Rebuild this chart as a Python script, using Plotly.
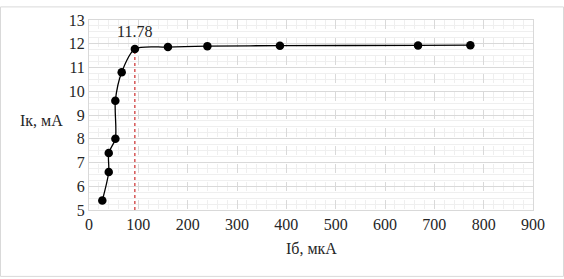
import plotly.graph_objects as go

ib = [27, 40, 40, 53.5, 53.4, 66.3, 93, 160, 240, 387, 667, 773]
ik = [5.4, 6.6, 7.4, 8.0, 9.6, 10.8, 11.78, 11.86, 11.9, 11.92, 11.93, 11.94]
mark_x = 93
mark_y = 11.78
mark_label = "11.78"
x_title = "Iб, мкА"
y_title = "Iк, мА"

W, H = 564, 279
L, R, T, B = 89, 31, 14, 69
font = "Liberation Serif"
tc = "#262626"

fig = go.Figure()
fig.add_trace(go.Scatter(x=[mark_x, mark_x], y=[5, mark_y], mode="lines",
                         line=dict(color="#c00000", width=1, dash="dot"),
                         hoverinfo="skip", showlegend=False))
fig.add_trace(go.Scatter(x=ib, y=ik, mode="lines+markers",
                         line=dict(color="black", width=1.3, shape="spline", smoothing=0.8),
                         marker=dict(color="black", size=8.5), showlegend=False))

fig.add_annotation(x=mark_x, y=mark_y, text=mark_label, showarrow=False,
                   yshift=17, xshift=0, font=dict(family=font, size=16, color=tc))

fig.update_xaxes(range=[0, 900], tickvals=list(range(0, 901, 100)),
                 showgrid=True, gridcolor="#d9d9d9", griddash="dash", gridwidth=1,
                 minor=dict(dtick=20, showgrid=True, gridcolor="#efefef", gridwidth=1),
                 showline=True, linecolor="#d9d9d9", mirror=True, zeroline=False,
                 ticks="", tickfont=dict(family=font, size=16, color=tc))
fig.update_yaxes(range=[5, 13], tickvals=list(range(5, 14)),
                 showgrid=True, gridcolor="#d9d9d9", gridwidth=1,
                 minor=dict(dtick=0.25, showgrid=True, gridcolor="#efefef", gridwidth=1),
                 showline=True, linecolor="#d9d9d9", mirror=True, zeroline=False,
                 ticks="", ticklen=0, tickfont=dict(family=font, size=16, color=tc))

pw = W - L - R
ph = H - T - B
fig.add_annotation(xref="paper", yref="paper", x=(311 - L) / pw, y=(H - B - 250) / ph,
                   xanchor="center", yanchor="middle",
                   text=x_title, showarrow=False,
                   font=dict(family=font, size=16, color=tc))
fig.add_annotation(xref="paper", yref="paper", x=(41 - L) / pw, y=(H - B - 118) / ph,
                   xanchor="center", yanchor="middle",
                   text=y_title, showarrow=False,
                   font=dict(family=font, size=16, color=tc))
fig.add_shape(type="rect", xref="paper", yref="paper",
              x0=(0.5 - L) / pw, x1=(W - 0.5 - L) / pw,
              y0=-(B - 0.5) / ph, y1=1 + (T - 0.5) / ph,
              line=dict(color="#d9d9d9", width=1), layer="below")

fig.update_layout(width=W, height=H, margin=dict(l=L, r=R, t=T, b=B),
                  font=dict(family=font, color=tc),
                  plot_bgcolor="white", paper_bgcolor="white")
fig.write_html("out.html")
